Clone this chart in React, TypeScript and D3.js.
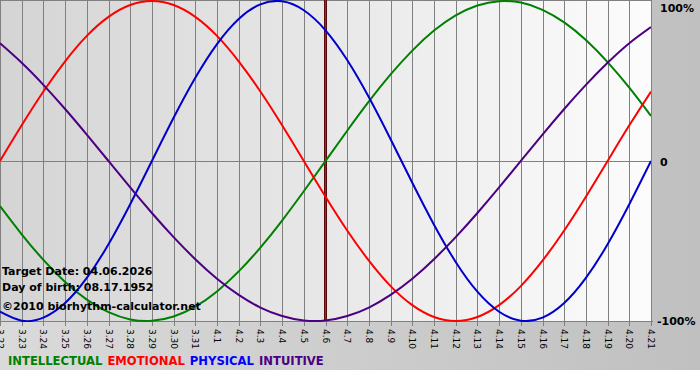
import React from "react";
import * as d3 from "d3";

const dayLabels = ["3.22","3.23","3.24","3.25","3.26","3.27","3.28","3.29","3.30","3.31","4.1","4.2","4.3","4.4","4.5","4.6","4.7","4.8","4.9","4.10","4.11","4.12","4.13","4.14","4.15","4.16","4.17","4.18","4.19","4.20","4.21"];

const intellectual = [-0.282,-0.458,-0.618,-0.756,-0.866,-0.945,-0.990,-0.999,-0.972,-0.910,-0.815,-0.690,-0.541,-0.372,-0.189,0,0.189,0.372,0.541,0.690,0.815,0.910,0.972,0.999,0.990,0.945,0.866,0.756,0.618,0.458,0.282];
const emotional = [0,0.223,0.434,0.623,0.782,0.901,0.975,1,0.975,0.901,0.782,0.623,0.434,0.223,0,-0.223,-0.434,-0.623,-0.782,-0.901,-0.975,-1,-0.975,-0.901,-0.782,-0.623,-0.434,-0.223,0,0.223,0.434];
const physical = [-0.942,-0.998,-0.979,-0.888,-0.731,-0.520,-0.270,0,0.270,0.520,0.731,0.888,0.979,0.998,0.942,0.817,0.631,0.398,0.136,-0.136,-0.398,-0.631,-0.817,-0.942,-0.998,-0.979,-0.888,-0.731,-0.520,-0.270,0];
const intuitive = [0.736,0.614,0.476,0.325,0.165,0,-0.165,-0.325,-0.476,-0.614,-0.736,-0.837,-0.916,-0.969,-0.997,-0.997,-0.969,-0.916,-0.837,-0.736,-0.614,-0.476,-0.325,-0.165,0,0.165,0.325,0.476,0.614,0.736,0.837];

const targetIndex = 15;
const yTicks = [
  { v: 1, label: "100%" },
  { v: 0, label: "0" },
  { v: -1, label: "-100%" },
];
const legend = [
  { name: "INTELLECTUAL", color: "#008000" },
  { name: "EMOTIONAL", color: "#ff0000" },
  { name: "PHYSICAL", color: "#0000ff" },
  { name: "INTUITIVE", color: "#4b0082" },
];
const seriesList = [
  { values: intellectual, color: "#008000" },
  { values: emotional, color: "#ff0000" },
  { values: physical, color: "#0000cc" },
  { values: intuitive, color: "#4b0082" },
];
const infoLines = ["Target Date: 04.06.2026", "Day of birth: 08.17.1952", "\u00a92010 biorhythm-calculator.net"];

export default function App() {
  const W = 700, H = 380;
  const left = 0, right = 651, top = 1, bottom = 321;
  const x = d3.scaleLinear().domain([0, dayLabels.length - 1]).range([left, right]);
  const y = d3.scaleLinear().domain([-1, 1]).range([bottom, top]);
  const line = d3.line<number>().x((_, i) => x(i)).y((d) => y(d)).curve(d3.curveNatural);
  const font = "Verdana, 'DejaVu Sans', sans-serif";
  return (
    <div style={{ position: "fixed", left: 0, top: 0 }}>
      <svg width={W} height={H} style={{ display: "block" }}>
        <defs>
          <linearGradient id="outer" x1="0" x2="1" y1="0" y2="0">
            <stop offset="0" stopColor="#dadada" />
            <stop offset="1" stopColor="#c0c0c0" />
          </linearGradient>
          <linearGradient id="plotbg" x1="0" x2="1" y1="0" y2="0">
            <stop offset="0" stopColor="#d4d4d4" />
            <stop offset="1" stopColor="#fcfcfc" />
          </linearGradient>
          <clipPath id="clip">
            <rect x={left} y={0} width={right - left} height={bottom + 1} />
          </clipPath>
        </defs>
        <rect x={0} y={0} width={W} height={H} fill="#ffffff" />
        <rect x={0} y={0} width={W} height={370} fill="url(#outer)" />
        <rect x={left} y={0} width={right - left} height={bottom} fill="url(#plotbg)" />
        {dayLabels.map((d, i) => (
          <line key={"g" + i} x1={Math.round(x(i)) + 0.5} x2={Math.round(x(i)) + 0.5} y1={0} y2={bottom + 5} stroke="#808080" strokeWidth={1} />
        ))}
        <line x1={left} x2={right} y1={0.5} y2={0.5} stroke="#808080" />
        <line x1={left} x2={right} y1={Math.round(y(0)) + 0.5} y2={Math.round(y(0)) + 0.5} stroke="#808080" />
        <line x1={left} x2={right + 2} y1={bottom + 0.5} y2={bottom + 0.5} stroke="#808080" />
        <line x1={x(targetIndex)} x2={x(targetIndex)} y1={0} y2={bottom} stroke="#5a0a0a" strokeWidth={3} />
        <line x1={x(targetIndex)} x2={x(targetIndex)} y1={0} y2={bottom} stroke="#a02828" strokeWidth={1} />
        <g clipPath="url(#clip)">
          {seriesList.map((s, k) => (
            <path key={k} d={line(s.values) || ""} fill="none" stroke={s.color} strokeWidth={2} />
          ))}
        </g>
        {dayLabels.map((d, i) => (
          <text key={"t" + i} transform={`translate(${x(i) - 3},${bottom + 8}) rotate(90)`} fontFamily={font} fontSize={9} fill="#000">{d}</text>
        ))}
        {yTicks.map((t) => (
          <text key={t.label} x={t.v === -1 ? 657 : 660} y={y(t.v) + (t.v === 1 ? 11 : t.v === 0 ? 5 : 4)} fontFamily={font} fontSize={11} fontWeight="bold" fill="#000">{t.label}</text>
        ))}
        {infoLines.map((t, i) => (
          <text key={i} x={2} y={275 + i * 16 + (i === 2 ? 3 : 0)} fontFamily={font} fontSize={11} fontWeight="bold" fill="#000">{t}</text>
        ))}
        <text x={8} y={365} fontFamily={font} fontSize={11.6} fontWeight="bold">
          {legend.map((l, i) => (
            <tspan key={l.name} fill={l.color} dx={i === 0 ? 0 : 5}>{l.name}</tspan>
          ))}
        </text>
      </svg>
    </div>
  );
}
